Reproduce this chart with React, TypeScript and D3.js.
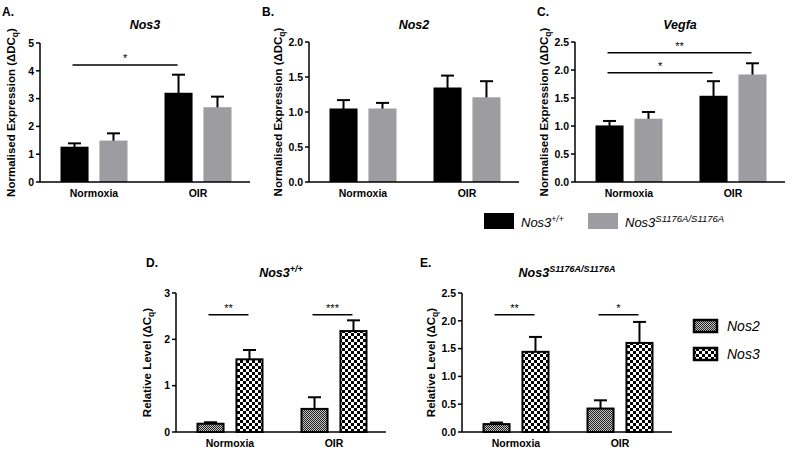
import React from "react";
import * as d3 from "d3";

const groups = ["Normoxia", "OIR"];

// Panel A – Nos3 (Nos3+/+ , Nos3 S1176A)
const nos3WtMean = [1.27, 3.21];
const nos3WtSem = [0.12, 0.65];
const nos3MutMean = [1.49, 2.69];
const nos3MutSem = [0.26, 0.38];
// Panel B – Nos2
const nos2WtMean = [1.05, 1.35];
const nos2WtSem = [0.12, 0.17];
const nos2MutMean = [1.05, 1.21];
const nos2MutSem = [0.08, 0.23];
// Panel C – Vegfa
const vegfaWtMean = [1.01, 1.54];
const vegfaWtSem = [0.08, 0.26];
const vegfaMutMean = [1.13, 1.92];
const vegfaMutSem = [0.12, 0.2];
// Panel D – Nos3+/+ : Nos2 vs Nos3
const wtNos2Mean = [0.2, 0.52];
const wtNos2Sem = [0.01, 0.23];
const wtNos3Mean = [1.59, 2.2];
const wtNos3Sem = [0.18, 0.21];
// Panel E – Nos3 S1176A : Nos2 vs Nos3
const mutNos2Mean = [0.16, 0.44];
const mutNos2Sem = [0.01, 0.13];
const mutNos3Mean = [1.46, 1.62];
const mutNos3Sem = [0.25, 0.36];

const ticksA = [0, 1, 2, 3, 4, 5];
const ticksB = [0, 0.5, 1, 1.5, 2];
const ticksC = [0, 0.5, 1, 1.5, 2, 2.5];
const ticksD = [0, 1, 2, 3];
const ticksE = [0, 0.5, 1, 1.5, 2, 2.5];

const sigA = [{ a: [0, 0], b: [1, 0], y: 4.21, label: "*" }];
const sigC = [
  { a: [0, 0], b: [1, 0], y: 1.95, label: "*" },
  { a: [0, 0], b: [1, 1], y: 2.31, label: "**" },
];
const sigD = [
  { a: [0, 0], b: [0, 1], y: 2.53, label: "**" },
  { a: [1, 0], b: [1, 1], y: 2.53, label: "***" },
];
const sigE = [
  { a: [0, 0], b: [0, 1], y: 2.11, label: "**" },
  { a: [1, 0], b: [1, 1], y: 2.11, label: "*" },
];

const FONT = "Arial, 'Liberation Sans', sans-serif";
const GRAY = "#9d9ca1";

type Sig = { a: number[]; b: number[]; y: number; label: string };

function Panel(props: {
  axisX: number;
  yTop: number;
  yBase: number;
  ymax: number;
  ticks: number[];
  fmt: string;
  means: number[][];
  sems: number[][];
  fills: string[];
  patterned: boolean;
  title: string;
  titleSup?: string;
  titleY: number;
  ylabel: string;
  ylabelSub: string;
  ylabelEnd: string;
  ylabelOffset: number;
  sigs: Sig[];
}) {
  const {
    axisX, yTop, yBase, ymax, ticks, fmt, means, sems, fills, patterned,
    title, titleSup, titleY, ylabel, ylabelSub, ylabelEnd, ylabelOffset, sigs,
  } = props;
  const y = d3.scaleLinear().domain([0, ymax]).range([yBase, yTop]);
  const axisEnd = axisX + 210;
  const xg = d3.scalePoint<string>().domain(groups).range([axisX + 2, axisEnd]).padding(0.5);
  const xs = d3.scaleBand<number>().domain([0, 1]).range([-33.5, 33.5]).paddingInner(0.28);
  const bw = xs.bandwidth();
  const f = d3.format(fmt);
  const cx = (gi: number, si: number) => (xg(groups[gi]) as number) + (xs(si) as number) + bw / 2;
  const midX = (axisX + axisEnd) / 2;
  const midY = (yTop + yBase) / 2;
  return (
    <g fontFamily={FONT}>
      <text x={midX} y={titleY} textAnchor="middle" fontSize={12.5} fontWeight="bold" fontStyle="italic">
        {title}
        {titleSup && (
          <tspan fontSize={9} dy={-5}>
            {titleSup}
          </tspan>
        )}
      </text>
      {means.map((series, si) =>
        series.map((v, gi) => {
          const x0 = cx(gi, si) - bw / 2;
          const top = y(v);
          const capY = y(v + sems[si][gi]);
          return (
            <g key={`${si}-${gi}`}>
              <line x1={cx(gi, si)} x2={cx(gi, si)} y1={top + 2} y2={capY} stroke="#000" strokeWidth={2} />
              <line x1={cx(gi, si) - 6.5} x2={cx(gi, si) + 6.5} y1={capY} y2={capY} stroke="#000" strokeWidth={2} />
              {patterned ? (
                <rect x={x0 + 1} y={top + 1} width={bw - 2} height={yBase - top - 1} fill={fills[si]} stroke="#000" strokeWidth={2} />
              ) : (
                <rect x={x0} y={top} width={bw} height={yBase - top} fill={fills[si]} />
              )}
            </g>
          );
        })
      )}
      <line x1={axisX} x2={axisX} y1={yTop} y2={yBase} stroke="#000" strokeWidth={1.5} />
      <line x1={axisX} x2={axisEnd} y1={yBase} y2={yBase} stroke="#000" strokeWidth={1.5} />
      {ticks.map((t) => (
        <g key={t}>
          <line x1={axisX - 4} x2={axisX} y1={y(t)} y2={y(t)} stroke="#000" strokeWidth={1.5} />
          <text x={axisX - 6} y={y(t) + 3.8} textAnchor="end" fontSize={10.5} fontWeight="bold">
            {f(t)}
          </text>
        </g>
      ))}
      {groups.map((g) => (
        <text key={g} x={xg(g)} y={yBase + 15} textAnchor="middle" fontSize={10.5} fontWeight="bold">
          {g}
        </text>
      ))}
      <text
        transform={`translate(${axisX - ylabelOffset},${midY}) rotate(-90)`}
        textAnchor="middle"
        fontSize={11.5}
        fontWeight="bold"
      >
        {ylabel}
        <tspan fontSize={8.5} dy={3}>{ylabelSub}</tspan>
        <tspan dy={-3}>{ylabelEnd}</tspan>
      </text>
      {sigs.map((s, i) => {
        const x1 = cx(s.a[0], s.a[1]) - 2;
        const x2 = cx(s.b[0], s.b[1]) - 1;
        const yy = y(s.y);
        return (
          <g key={i}>
            <line x1={x1} x2={x2} y1={yy} y2={yy} stroke="#000" strokeWidth={1.5} />
            <text x={(x1 + x2) / 2} y={yy - 3} textAnchor="middle" fontSize={11}>
              {s.label}
            </text>
          </g>
        );
      })}
    </g>
  );
}

export default function App() {
  return (
    <svg
      width={796}
      height={451}
      style={{ position: "absolute", left: 0, top: 0, background: "#fff" }}
      fontFamily={FONT}
    >
      <defs>
        <pattern id="fine" patternUnits="userSpaceOnUse" width={2} height={2}>
          <rect width={2} height={2} fill="#c4c4c4" />
          <rect width={1} height={1} fill="#222" />
          <rect x={1} y={1} width={1} height={1} fill="#222" />
        </pattern>
        <pattern id="coarse" patternUnits="userSpaceOnUse" width={6} height={6}>
          <rect width={6} height={6} fill="#fff" />
          <rect width={3} height={3} fill="#000" />
          <rect x={3} y={3} width={3} height={3} fill="#000" />
        </pattern>
      </defs>
      <rect width={796} height={451} fill="#fff" />

      <g fontWeight="bold" fontSize={12}>
        <text x={2} y={16}>A.</text>
        <text x={262} y={16}>B.</text>
        <text x={537} y={16}>C.</text>
        <text x={146} y={267}>D.</text>
        <text x={420} y={267}>E.</text>
      </g>

      <Panel
        axisX={40} yTop={43} yBase={182} ymax={5} ticks={ticksA} fmt="d"
        means={[nos3WtMean, nos3MutMean]} sems={[nos3WtSem, nos3MutSem]}
        fills={["#000", GRAY]} patterned={false}
        title="Nos3" titleY={28.5}
        ylabel="Normalised Expression (ΔDC" ylabelSub="q" ylabelEnd=")" ylabelOffset={25}
        sigs={sigA}
      />
      <Panel
        axisX={309} yTop={42} yBase={182} ymax={2} ticks={ticksB} fmt=".1f"
        means={[nos2WtMean, nos2MutMean]} sems={[nos2WtSem, nos2MutSem]}
        fills={["#000", GRAY]} patterned={false}
        title="Nos2" titleY={28.5}
        ylabel="Normalised Expression (ΔDC" ylabelSub="q" ylabelEnd=")" ylabelOffset={27}
        sigs={[]}
      />
      <Panel
        axisX={575} yTop={42} yBase={182} ymax={2.5} ticks={ticksC} fmt=".1f"
        means={[vegfaWtMean, vegfaMutMean]} sems={[vegfaWtSem, vegfaMutSem]}
        fills={["#000", GRAY]} patterned={false}
        title="Vegfa" titleY={28.5}
        ylabel="Normalised Expression (ΔDC" ylabelSub="q" ylabelEnd=")" ylabelOffset={27}
        sigs={sigC}
      />
      <Panel
        axisX={176} yTop={293} yBase={432} ymax={3} ticks={ticksD} fmt="d"
        means={[wtNos2Mean, wtNos3Mean]} sems={[wtNos2Sem, wtNos3Sem]}
        fills={["url(#fine)", "url(#coarse)"]} patterned={true}
        title="Nos3" titleSup="+/+" titleY={277}
        ylabel="Relative Level (ΔC" ylabelSub="q" ylabelEnd=")" ylabelOffset={25}
        sigs={sigD}
      />
      <Panel
        axisX={462} yTop={293} yBase={432} ymax={2.5} ticks={ticksE} fmt=".1f"
        means={[mutNos2Mean, mutNos3Mean]} sems={[mutNos2Sem, mutNos3Sem]}
        fills={["url(#fine)", "url(#coarse)"]} patterned={true}
        title="Nos3" titleSup="S1176A/S1176A" titleY={277}
        ylabel="Relative Level (ΔC" ylabelSub="q" ylabelEnd=")" ylabelOffset={27}
        sigs={sigE}
      />

      <g fontFamily={FONT} fontStyle="italic" fontSize={13}>
        <rect x={484} y={213} width={30} height={16} fill="#000" />
        <text x={521} y={227}>
          Nos3<tspan fontSize={8.5} dy={-5}>+/+</tspan>
        </text>
        <rect x={588} y={213} width={30} height={16} fill={GRAY} />
        <text x={625} y={227}>
          Nos3<tspan fontSize={9.5} dy={-5}>S1176A/S1176A</tspan>
        </text>
      </g>

      <g fontFamily={FONT} fontStyle="italic" fontSize={14}>
        <rect x={694} y={320} width={23} height={12} fill="url(#fine)" stroke="#000" strokeWidth={2.5} />
        <text x={727} y={331}>Nos2</text>
        <rect x={694} y={348} width={23} height={12} fill="url(#coarse)" stroke="#000" strokeWidth={2.5} />
        <text x={727} y={359}>Nos3</text>
      </g>
    </svg>
  );
}
